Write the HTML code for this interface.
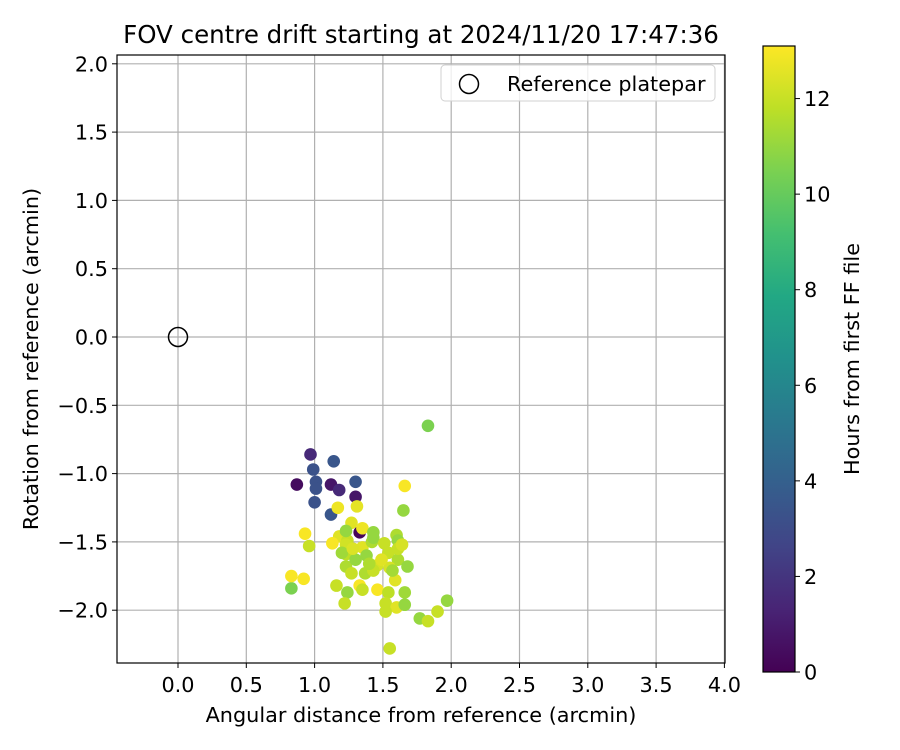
<!DOCTYPE html>
<html><head><meta charset="utf-8"><style>
body{margin:0;background:#fff;}
svg{display:block;font-family:"DejaVu Sans","Liberation Sans",sans-serif;}
</style></head><body>
<svg id="chart" width="900" height="750" viewBox="0 0 900 750" xmlns="http://www.w3.org/2000/svg">
<rect width="900" height="750" fill="#fff"/>
<g id="grid"></g>
<g id="points"></g>
<g id="axes"></g>
<text x="421" y="43" font-size="24.5" text-anchor="middle">FOV centre drift starting at 2024/11/20 17:47:36</text>
<text x="421" y="722" font-size="20.8" text-anchor="middle">Angular distance from reference (arcmin)</text>
<text transform="translate(38,359) rotate(-90)" font-size="20.8" text-anchor="middle">Rotation from reference (arcmin)</text>
<g>
<rect x="441" y="65" width="274" height="36" rx="4" fill="#fff" fill-opacity="0.8" stroke="#d0d0d0"/>
<circle cx="469" cy="84" r="9.5" fill="none" stroke="#000" stroke-width="1.5"/>
<text x="507" y="91" font-size="20.8">Reference platepar</text>
</g>
<defs><linearGradient id="vir" x1="0" y1="1" x2="0" y2="0"></linearGradient></defs>
<g id="cbar"></g>
<text transform="translate(859,359) rotate(-90)" font-size="20.8" text-anchor="middle">Hours from first FF file</text>
</svg>
<script>
const xTicks=[0,0.5,1,1.5,2,2.5,3,3.5,4];
const yTicks=[2,1.5,1,0.5,0,-0.5,-1,-1.5,-2];
const cTicks=[0,2,4,6,8,10,12];
const refX=[0];const refY=[0];
const ptX=[1.33,0.97,1.14,0.99,0.87,1.01,1.01,1.12,1.18,1.30,1.30,1.00,1.12,1.83,1.66,1.65,1.17,1.31,
1.27,1.35,1.18,1.13,1.24,1.25,1.35,1.42,1.43,1.51,1.60,1.54,1.61,1.68,1.23,1.27,1.37,1.46,1.55,1.59,1.16,1.24,1.33,1.35,1.46,1.22,1.54,1.66,1.52,1.60,1.66,1.77,1.83,1.90,1.97,1.52,1.55,0.83,0.83,0.92,1.61,1.61,1.64,1.57,1.23,1.30,1.38,1.49,1.23,1.43,1.43,0.93,0.96,1.23,1.20,1.28,1.40];
const ptY=[-1.43,-0.86,-0.91,-0.97,-1.08,-1.06,-1.11,-1.08,-1.12,-1.06,-1.17,-1.21,-1.30,-0.65,-1.09,-1.27,-1.25,-1.24,
-1.36,-1.40,-1.46,-1.51,-1.49,-1.56,-1.54,-1.50,-1.47,-1.51,-1.45,-1.58,-1.63,-1.68,-1.68,-1.73,-1.73,-1.67,-1.69,-1.78,-1.82,-1.87,-1.82,-1.85,-1.85,-1.95,-1.87,-1.87,-1.95,-1.98,-1.96,-2.06,-2.08,-2.01,-1.93,-2.01,-2.28,-1.84,-1.75,-1.77,-1.49,-1.55,-1.52,-1.71,-1.59,-1.63,-1.60,-1.63,-1.42,-1.71,-1.43,-1.44,-1.53,-1.52,-1.58,-1.55,-1.66];
const ptH=[0.2,1.5,3.5,3.3,0.4,3.3,3.3,0.8,1.5,3.5,0.8,3.3,3.5,10.5,13,11,12.8,12.6,
12.5,12.8,12.5,13,12,12,12.5,11.5,11,12,11.5,12,11.5,11,11.5,12,11.5,12.3,12.3,12.5,12,11,13,12,13,12,11.8,11.2,12,12.5,11,11,12,12,11,12,12,10.5,13,13,11,12,12.3,11.3,11.8,11,11,12.5,11,12,11,13,12,12.2,11.2,12.4,11.5];
const NS="http://www.w3.org/2000/svg";
const L=117,R=725,T=55,B=663,X0=178,Y0=337,S=136.6,HMAX=13.1;
const sx=v=>X0+v*S, sy=v=>Y0-v*S;
const vir=["#440154","#482475","#414487","#355f8d","#2a788e","#21918c","#22a884","#44bf70","#7ad151","#bddf26","#fde725"];
function hex(h){return [1,3,5].map(i=>parseInt(h.substr(i,2),16));}
function cmap(t){t=Math.max(0,Math.min(1,t));const f=t*10,i=Math.min(9,Math.floor(f)),u=f-i;const a=hex(vir[i]),b=hex(vir[i+1]);return "rgb("+a.map((c,k)=>Math.round(c+(b[k]-c)*u)).join(",")+")";}
function mk(tag,attrs,parent){const e=document.createElementNS(NS,tag);for(const k in attrs)e.setAttribute(k,attrs[k]);parent.appendChild(e);return e;}
const grid=document.getElementById('grid'),axes=document.getElementById('axes'),pts=document.getElementById('points'),cbar=document.getElementById('cbar');
xTicks.forEach(v=>{const x=sx(v);
 const g=mk('line',{x1:x,x2:x,y1:T,y2:B,stroke:'#b0b0b0','stroke-width':1.2},grid);
 
 
 mk('line',{x1:x,x2:x,y1:B,y2:B+5,stroke:'#000','stroke-width':1},axes);
 const t=mk('text',{x:x,y:B+29,'font-size':20.8,'text-anchor':'middle'},axes);t.textContent=v.toFixed(1);
 
 });
yTicks.forEach(v=>{const y=sy(v);
 const g=mk('line',{x1:L,x2:R,y1:y,y2:y,stroke:'#b0b0b0','stroke-width':1.2},grid);
 
 
 mk('line',{x1:L-5,x2:L,y1:y,y2:y,stroke:'#000','stroke-width':1},axes);
 const t=mk('text',{x:L-9,y:y+7.5,'font-size':20.8,'text-anchor':'end'},axes);t.textContent=(v<0?'\u2212':'')+Math.abs(v).toFixed(1);
 
 });
mk('rect',{x:L,y:T,width:R-L,height:B-T,fill:'none',stroke:'#000','stroke-width':1.2},axes);
refX.forEach((v,i)=>{const c=mk('circle',{cx:sx(v),cy:sy(refY[i]),r:9.5,fill:'none',stroke:'#000','stroke-width':1.5},pts);
 
 });
ptX.forEach((v,i)=>{const c=mk('circle',{cx:sx(v),cy:sy(ptY[i]),r:6.3,fill:cmap(ptH[i]/HMAX)},pts);
 
 });
const CL=763,CR=795,CT=46,CB=672;
const grad=document.getElementById('vir');
vir.forEach((c,i)=>mk('stop',{offset:(i*10)+'%','stop-color':c},grad));
const cr=mk('rect',{x:CL,y:CT,width:CR-CL,height:CB-CT,fill:'url(#vir)',stroke:'#000','stroke-width':1.2},cbar);


cTicks.forEach(v=>{const y=CB-(v/HMAX)*(CB-CT);
 mk('line',{x1:CR,x2:CR+5,y1:y,y2:y,stroke:'#000'},cbar);
 const t=mk('text',{x:CR+9,y:y+7.5,'font-size':20.8},cbar);t.textContent=v;
 
 });
</script>
</body></html>
